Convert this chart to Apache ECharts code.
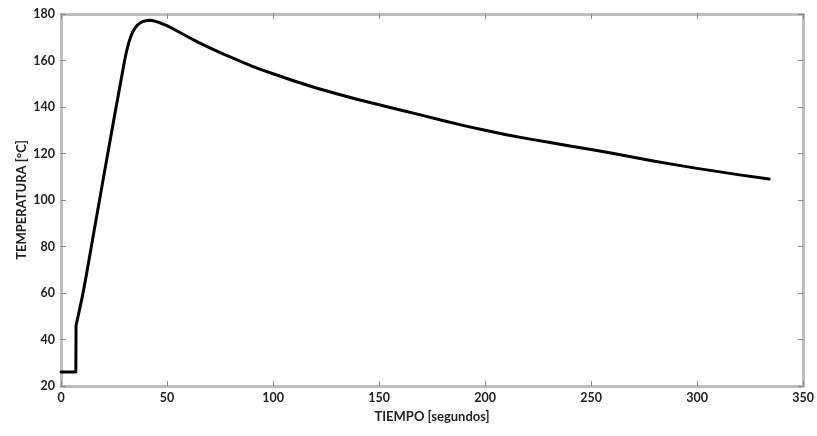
<!DOCTYPE html>
<html>
<head>
<meta charset="utf-8">
<script src="https://cdn.jsdelivr.net/npm/echarts@6/dist/echarts.min.js"></script>
<style>
html,body{margin:0;padding:0;background:#ffffff;}
#chart{width:817px;height:436px;}
</style>
</head>
<body>
<div id="chart"></div>
<script>
const tiempo = [0, 7, 7.1, 8, 9, 10, 11, 12, 15, 20, 25, 30, 31, 32, 33, 34, 35, 36, 37.5, 39, 40.5, 42, 43.5, 45, 47.5, 50, 55, 60, 65, 70, 75, 80, 85, 90, 95, 100, 110, 120, 130, 140, 150, 160, 170, 180, 190, 200, 210, 220, 230, 240, 250, 260, 270, 280, 290, 300, 310, 320, 334];
const temperatura = [26, 26, 46, 49.8, 53.9, 58.2, 63, 68, 83.5, 109.5, 135, 160, 164.3, 167.8, 170.5, 172.6, 174.1, 175.2, 176.3, 176.9, 177.2, 177.3, 177.1, 176.7, 175.9, 175, 172.6, 170.1, 167.7, 165.5, 163.4, 161.4, 159.5, 157.6, 155.9, 154.3, 151.2, 148.3, 145.7, 143.2, 141, 138.7, 136.5, 134.2, 132, 130, 128.1, 126.4, 124.8, 123.2, 121.7, 120.1, 118.4, 116.7, 115.1, 113.6, 112.2, 110.8, 109];
const xTitle = 'TIEMPO [segundos]';
const yTitle = 'TEMPERATURA [°C]';

const axisLineStyle = {color: '#bdbdbd', width: 3};
const tickStyle = {color: '#8a8a8a', width: 1};
const labelStyle = {color: '#222', fontSize: 12.5, fontFamily: 'Lato', fontWeight: 'bold'};

const chart = echarts.init(document.getElementById('chart'), null, {renderer: 'canvas'});
chart.setOption({
  animation: false,
  backgroundColor: '#ffffff',
  grid: {left: 61, right: 13, top: 14, bottom: 50, containLabel: false},
  xAxis: [{
    type: 'value', min: 0, max: 350, interval: 50, position: 'bottom',
    name: xTitle, nameLocation: 'middle', nameGap: 24,
    nameTextStyle: {color: '#222', fontSize: 13, fontFamily: 'Lato', fontWeight: 'bold'},
    axisLine: {show: true, onZero: false, lineStyle: axisLineStyle},
    axisTick: {show: true, inside: true, length: 5, lineStyle: tickStyle},
    axisLabel: Object.assign({margin: 5}, labelStyle),
    splitLine: {show: false}
  }, {
    type: 'value', min: 0, max: 350, interval: 50, position: 'top',
    axisLine: {show: true, onZero: false, lineStyle: axisLineStyle},
    axisTick: {show: true, inside: true, length: 5, lineStyle: tickStyle},
    axisLabel: {show: false},
    splitLine: {show: false}
  }],
  yAxis: [{
    type: 'value', min: 20, max: 180, interval: 20, position: 'left',
    name: yTitle, nameLocation: 'middle', nameGap: 33, nameRotate: 90,
    nameMoveOverlap: false,
    nameTextStyle: {color: '#222', fontSize: 13, fontFamily: 'Lato', fontWeight: 'bold'},
    axisLine: {show: true, onZero: false, lineStyle: axisLineStyle},
    axisTick: {show: true, inside: true, length: 5, lineStyle: tickStyle},
    axisLabel: Object.assign({margin: 6}, labelStyle),
    splitLine: {show: false}
  }, {
    type: 'value', min: 20, max: 180, interval: 20, position: 'right',
    axisLine: {show: true, onZero: false, lineStyle: axisLineStyle},
    axisTick: {show: true, inside: true, length: 5, lineStyle: tickStyle},
    axisLabel: {show: false},
    splitLine: {show: false}
  }],
  series: [{
    type: 'line',
    xAxisIndex: 0, yAxisIndex: 0,
    data: tiempo.map((t, i) => [t, temperatura[i]]),
    showSymbol: false,
    smooth: false,
    lineStyle: {color: '#000', width: 3, join: 'round', cap: 'round'}
  }]
});
</script>
</body>
</html>
